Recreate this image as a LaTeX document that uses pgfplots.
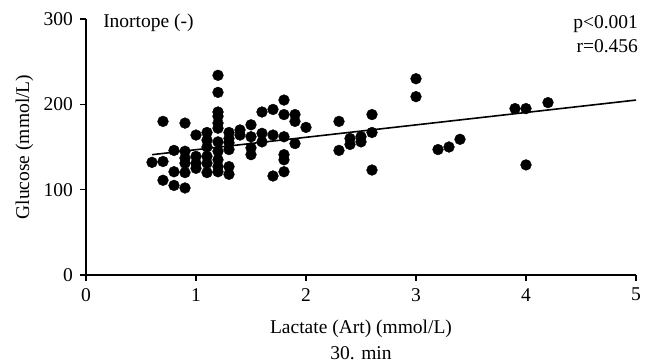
\documentclass[border=0pt]{standalone}
\usepackage{pgfplots}
\pgfplotsset{compat=1.18}
\usepackage{pgfplotstable}
\usepackage{fontspec}
\setmainfont{Liberation Serif}
\pgfplotstableread{
x y
0.6 132
0.7 180
0.7 133
0.7 111
0.8 146
0.8 121
0.8 105
0.9 178
0.9 145
0.9 137
0.9 131
0.9 120
0.9 102
1.0 164
1.0 139
1.0 131
1.0 125
1.1 167
1.1 158
1.1 150
1.1 139
1.1 131
1.1 120
1.2 234
1.2 214
1.2 191
1.2 186
1.2 178
1.2 172
1.2 156
1.2 145
1.2 135
1.2 127
1.2 121
1.3 167
1.3 160
1.3 155
1.3 147
1.3 127
1.3 118
1.4 170
1.4 164
1.5 176
1.5 162
1.5 149
1.5 141
1.6 191
1.6 166
1.6 156
1.7 194
1.7 164
1.7 116
1.8 205
1.8 188
1.8 162
1.8 141
1.8 135
1.8 121
1.9 188
1.9 180
1.9 154
2.0 173
2.3 180
2.3 146
2.4 160
2.4 153
2.5 162
2.5 156
2.6 188
2.6 167
2.6 123
3.0 230
3.0 209
3.2 147
3.3 150
3.4 159
3.9 195
4.0 195
4.0 129
4.2 202
}\pts
\newcommand{\bigf}{\fontsize{19.5}{23}\selectfont}
\begin{document}
\bigf
\begin{tikzpicture}
\useasboundingbox (0,0) rectangle (654pt,363pt);
\begin{axis}[
  at={(86pt,88pt)}, anchor=south west,
  scale only axis, width=550pt, height=256pt,
  xmin=0, xmax=5, ymin=0, ymax=300,
  xtick={0,1,2,3,4,5}, ytick={0,100,200,300},
  axis x line=bottom, axis y line=left,
  axis line style={-, line width=1.6pt},
  tick style={line width=1.4pt, black},
  major tick length=6pt,
  tick align=outside,
  clip=false,
  /pgf/number format/assume math mode=true,
  tick label style={font=\bigf},
  xticklabel style={inner sep=1pt, yshift=-6pt},
  yticklabel style={inner sep=2pt, xshift=-5pt},
  label style={font=\bigf},
  xlabel={Lactate (Art) (mmol/L)},
  ylabel={Glucose (mmol/L)},
  every axis x label/.style={at={(axis description cs:0.5,-0.228)}, anchor=base},
  every axis y label/.style={at={(axis description cs:-0.112,0.5)}, rotate=90, anchor=center},
]
\addplot[only marks, mark=*, mark size=5.4pt, black] table[x=x,y=y] {\pts};
\addplot[black, line width=1.6pt] coordinates {(0.6,141) (5,205)};
\node[anchor=base west, font=\bigf, inner sep=0pt] at (axis description cs:0.031,0.965) {Inortope (-)};
\node[anchor=base east, font=\bigf, inner sep=0pt] at (axis description cs:1.004,0.961) {p<0.001};
\node[anchor=base east, font=\bigf, inner sep=0pt] at (axis description cs:1.004,0.871) {r=0.456};
\node[anchor=base, font=\bigf, inner sep=0pt] at (axis description cs:0.5,-0.330) {30. min};
\end{axis}
\end{tikzpicture}
\end{document}
